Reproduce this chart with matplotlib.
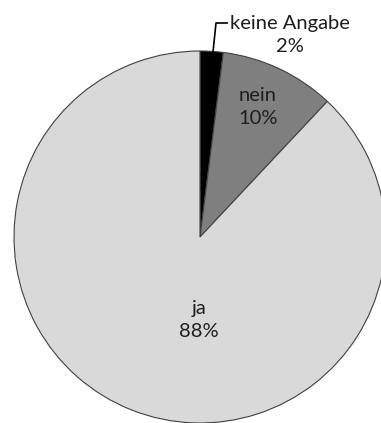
import matplotlib
matplotlib.use("Agg")
import matplotlib.pyplot as plt

# --- data ---
labels = ["keine Angabe", "nein", "ja"]
shares = [2, 10, 88]
colors = ["#000000", "#7f7f7f", "#d9d9d9"]

W, H = 381, 423
fig = plt.figure(figsize=(W / 100, H / 100), dpi=100)
ax = fig.add_axes([0, 0, 1, 1])

# pie laid out in pixel units (y measured from the bottom)
cx, cy, r = 200, H - 237, 186
wedges, _ = ax.pie(
    shares,
    colors=colors,
    startangle=90,
    counterclock=False,
    center=(cx, cy),
    radius=r,
    frame=True,
    wedgeprops=dict(edgecolor="#404040", linewidth=0.8),
)
ax.set_xlim(0, W)
ax.set_ylim(0, H)
ax.set_aspect("equal")
ax.axis("off")

font = dict(family=["Lato", "DejaVu Sans"], fontsize=14.5, ha="center", va="center",
            color="#1e1e1e", linespacing=1.4)

# label positions (pixel coords of the reference, top-origin)
label_pos = [(290, 35), (258, 107), (199, 320)]
for name, pct, (x, y) in zip(labels, shares, label_pos):
    ax.text(x, H - y, f"{name}\n{pct}%", **font)

# leader line for the small slice
ax.plot([228, 216, 213], [H - 23, H - 23, H - 52], color="#000000", lw=1.2,
        solid_capstyle="butt")

fig.savefig("out.png", dpi=100, facecolor="white")
